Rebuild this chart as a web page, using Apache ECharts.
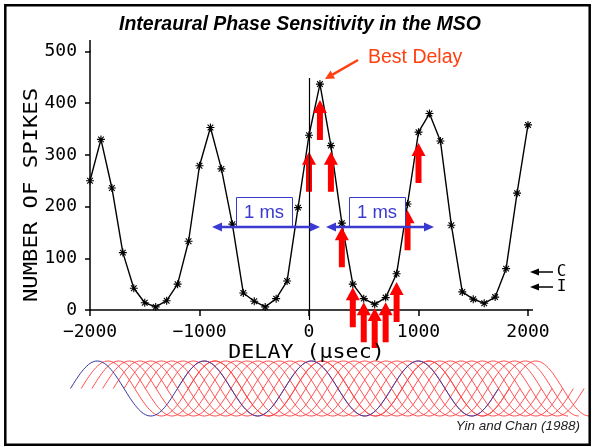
<!DOCTYPE html>
<html>
<head>
<meta charset="utf-8">
<script src="https://cdn.jsdelivr.net/npm/echarts@6/dist/echarts.min.js"></script>
<style>html,body{margin:0;padding:0;background:#fff}#c{width:592px;height:447px}</style>
</head>
<body>
<div id="c"></div>
<script>
// ---- data ----
const delays = [-2000,-1900,-1800,-1700,-1600,-1500,-1400,-1300,-1200,-1100,-1000,-900,-800,-700,-600,-500,-400,-300,-200,-100,0,100,200,300,400,500,600,700,800,900,1000,1100,1200,1300,1400,1500,1600,1700,1800,1900,2000];
const spikes = [250,330,236,111,42,14,6,18,50,133,279,353,273,166,33,17,6,22,56,198,338,437,318,168,50,22,11,24,70,205,344,380,327,164,35,21,13,25,80,226,358];
const xTicks = [-2000,-1000,0,1000,2000];
const yTicks = [0,100,200,300,400,500];
// red arrows: delay at which each arrow sits, spike value at its tip
const arrowDelays = [0,100,200,300,400,500,600,700,800,900,1000];
const arrowTips = [306,406,306,160,44,15,4,15,54,193,323];

const chart = echarts.init(document.getElementById('c'), null, {renderer:'canvas'});

const asterisk = 'path://M4.3 0L5.7 0L5.7 10L4.3 10Z M0 4.3L10 4.3L10 5.7L0 5.7Z M1.96 0.97L9.04 8.04L8.04 9.04L0.97 1.96Z M9.04 1.96L1.96 9.04L0.97 8.04L8.04 0.97Z';
const mono = '"DejaVu Sans Mono", monospace';
const arial = '"Liberation Sans", Arial, sans-serif';

function arrowHead(tx, ty, dx, dy, len, hw, color) {
  const L = Math.hypot(dx, dy), ux = dx / L, uy = dy / L;
  const bx = tx - ux * len, by = ty - uy * len;
  const nx = -uy * hw, ny = ux * hw;
  return {type:'polygon', shape:{points:[[tx,ty],[bx+nx,by+ny],[bx-nx,by-ny]]}, style:{fill:color}, z:20};
}
function line(x1,y1,x2,y2,color,w){
  return {type:'line', shape:{x1,y1,x2,y2}, style:{stroke:color, lineWidth:w}, z:20};
}

// decorative sine-like wave built from cubic bezier quarter segments
function waveCurves(x0, mid, amp, quarter, nQ, maxX, color, w, z) {
  const a = 0.3261, b = 0.6381, k = 0.5123;
  const out = [];
  let x = x0;
  for (let i = 0; i < nQ; i++) {
    if (x + quarter > maxX) break;
    const ph = i % 4;
    let y0, p1, p2, p3;
    if (ph === 0) { y0=mid; p1=[x+a*quarter, mid-k*amp]; p2=[x+b*quarter, mid-amp]; p3=[x+quarter, mid-amp]; }
    else if (ph === 1) { y0=mid-amp; p1=[x+(1-b)*quarter, mid-amp]; p2=[x+(1-a)*quarter, mid-k*amp]; p3=[x+quarter, mid]; }
    else if (ph === 2) { y0=mid; p1=[x+a*quarter, mid+k*amp]; p2=[x+b*quarter, mid+amp]; p3=[x+quarter, mid+amp]; }
    else { y0=mid+amp; p1=[x+(1-b)*quarter, mid+amp]; p2=[x+(1-a)*quarter, mid+k*amp]; p3=[x+quarter, mid]; }
    out.push({type:'bezierCurve', shape:{x1:x, y1:y0, cpx1:p1[0], cpy1:p1[1], cpx2:p2[0], cpy2:p2[1], x2:p3[0], y2:p3[1]},
      style:{stroke:color, lineWidth:w, fill:null}, z:z, silent:true});
    x += quarter;
  }
  return out;
}

const period = 107, q = period / 4, waveStart = 70.5, step = period / 10;
let waves = [];
for (let i = 1; i <= 11; i++) waves = waves.concat(waveCurves(waveStart + i*step, 388.5, 27.5, q, 16, 590, '#ff3a3a', 0.9, 10));
waves = waves.concat(waveCurves(waveStart, 388.5, 27.5, q, 16, 600, '#3535a0', 1, 11));

const blue = '#3a3ad0';
const orange = '#ff4010';

const graphics = [
  {type:'rect', shape:{x:5.3,y:5.3,width:584.4,height:439.4}, style:{fill:null, stroke:'#000', lineWidth:2.5}, z:30},
  {type:'text', x:300, y:25, style:{text:'Interaural Phase Sensitivity in the MSO', font:'italic bold 19.5px ' + arial, fill:'#000', align:'center', verticalAlign:'middle'}, z:20},
  {type:'text', x:368, y:58, style:{text:'Best Delay', font:'19.5px ' + arial, fill:orange, align:'left', verticalAlign:'middle'}, z:20},
  line(358,60,332.5,74.7,orange,2.5),
  arrowHead(325,79,-33,19,9,4.5,orange),
  // axis names
  {type:'text', x:32, y:195, rotation:Math.PI/2, scaleX:1.17, style:{text:'NUMBER OF SPIKES', font:'19px ' + mono, fill:'#000', align:'center', verticalAlign:'middle'}, z:20},
  {type:'text', x:306.5, y:353, scaleX:1.14, style:{text:'DELAY (μsec)', font:'19px ' + mono, fill:'#000', align:'center', verticalAlign:'middle'}, z:20},
  // zero delay line and axis overshoots
  line(309.5,78,309.5,320,'#000',1.2),
  line(90,40,90,52,'#000',1.5),
  line(527,310,533,310,'#000',1.5),
  // 1 ms boxes and arrows
  {type:'rect', shape:{x:236.5,y:197.5,width:56,height:29}, style:{fill:'#fff', stroke:blue, lineWidth:1}, z:18},
  {type:'text', x:264, y:213, style:{text:'1 ms', font:'18.5px ' + arial, fill:blue, align:'center', verticalAlign:'middle'}, z:21},
  line(219,227,313,227,blue,2.5),
  arrowHead(212,227,-1,0,10,4.5,blue),
  arrowHead(320,227,1,0,10,4.5,blue),
  {type:'rect', shape:{x:349.5,y:197.5,width:56,height:29}, style:{fill:'#fff', stroke:blue, lineWidth:1}, z:18},
  {type:'text', x:377, y:213, style:{text:'1 ms', font:'18.5px ' + arial, fill:blue, align:'center', verticalAlign:'middle'}, z:21},
  line(333,227,427,227,blue,2.5),
  arrowHead(326,227,-1,0,10,4.5,blue),
  arrowHead(434,227,1,0,10,4.5,blue),
  // C / I markers
  line(538,272,553,272,'#000',1.5),
  arrowHead(530,272,-1,0,9,3.5,'#000'),
  {type:'text', x:561.5, y:272, style:{text:'C', font:'16px ' + mono, fill:'#000', align:'center', verticalAlign:'middle'}, z:20},
  line(538,287,553,287,'#000',1.5),
  arrowHead(530,287,-1,0,9,3.5,'#000'),
  {type:'text', x:561.5, y:287, style:{text:'I', font:'16px ' + mono, fill:'#000', align:'center', verticalAlign:'middle'}, z:20},
  {type:'text', x:580, y:426, style:{text:'Yin and Chan (1988)', font:'italic 13.5px ' + arial, fill:'#222', align:'right', verticalAlign:'middle'}, z:20}
].concat(waves);

chart.setOption({
  animation:false,
  backgroundColor:'#fff',
  grid:{left:90, right:64, top:51.5, bottom:137},
  xAxis:{type:'value', min:xTicks[0], max:xTicks[xTicks.length-1], interval:1000,
    axisLine:{show:true, onZero:false, lineStyle:{color:'#000', width:1.5}},
    axisTick:{show:true, length:6, lineStyle:{color:'#000', width:1.5}},
    splitLine:{show:false},
    axisLabel:{margin:13, color:'#000', fontFamily:'DejaVu Sans Mono', fontSize:18,
      formatter:v => (v < 0 ? '\u2212' + (-v) : String(v))}},
  yAxis:{type:'value', min:yTicks[0], max:yTicks[yTicks.length-1], interval:100,
    axisLine:{show:true, onZero:false, lineStyle:{color:'#000', width:1.5}},
    axisTick:{show:true, length:5, lineStyle:{color:'#000', width:1.5}},
    splitLine:{show:false},
    axisLabel:{margin:13, color:'#000', fontFamily:'DejaVu Sans Mono', fontSize:18}},
  series:[
    {type:'line', data:delays.map((d,i)=>[d, spikes[i]]), symbol:asterisk, symbolSize:8, showAllSymbol:true,
      itemStyle:{color:'#000'}, lineStyle:{color:'#000', width:1.4}, z:5},
    {type:'custom', clip:false, z:8, data:arrowDelays.map((d,i)=>[d, arrowTips[i]]),
      renderItem:(params, api) => {
        const p = api.coord([api.value(0), api.value(1)]);
        const cx = p[0], cy = p[1];
        return {type:'polygon', shape:{points:[[cx,cy],[cx+7,cy+13],[cx+3,cy+13],[cx+3,cy+40],[cx-3,cy+40],[cx-3,cy+13],[cx-7,cy+13]]},
          style:{fill:'#ff0000'}};
      }}
  ],
  graphic:graphics
});
</script>
</body>
</html>
